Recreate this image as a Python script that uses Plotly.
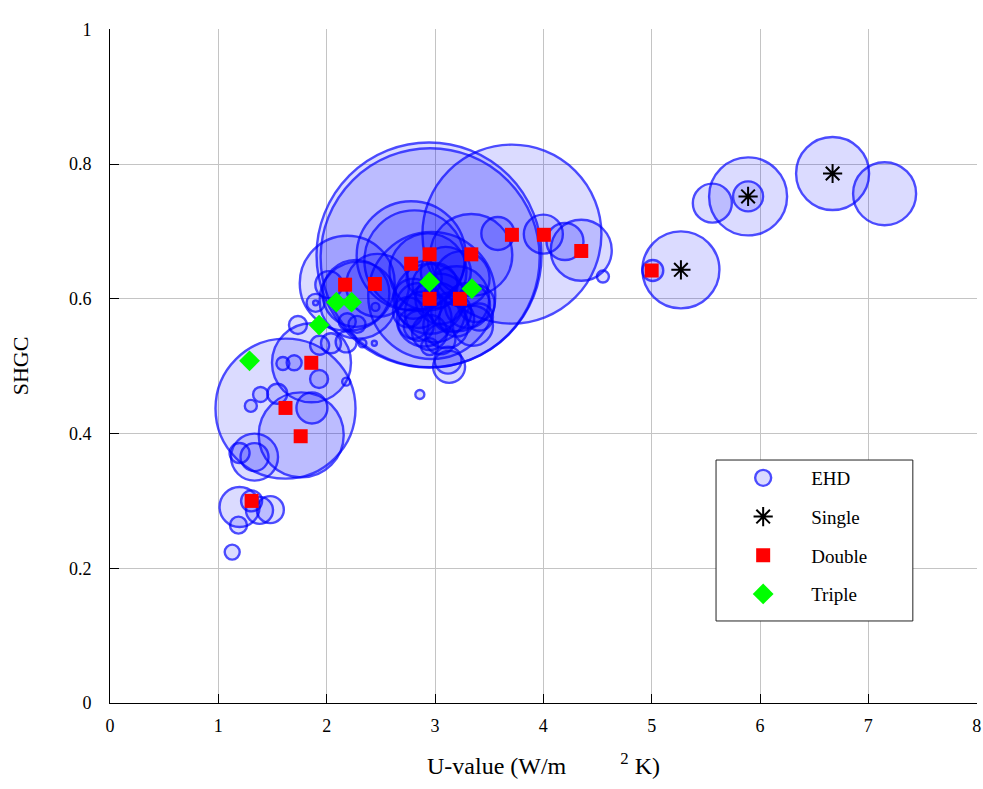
import plotly.graph_objects as go

# ---------------- data ----------------
# EHD bubbles: U-value, SHGC, bubble size
ehd_u = [6.67, 7.15, 5.89, 5.89, 5.56, 5.27, 5.01, 4.55, 4.35, 4.20, 4.00, 3.58,
         2.945, 2.955, 3.71, 2.78, 2.81, 3.335, 2.97, 2.935, 2.19, 2.47, 2.27, 2.29,
         2.85, 2.90, 3.00, 3.05, 3.10, 3.15, 2.95, 2.85, 3.20, 3.30, 3.35, 3.00, 3.10,
         2.80, 2.75, 3.25, 2.90, 3.05, 2.95, 3.20,
         2.80, 2.95, 3.13, 3.12, 2.86, 3.38, 3.41,
         1.62, 1.765, 1.86, 1.864, 1.93, 1.596, 1.70, 1.39, 1.544, 1.30, 2.18,
         1.334, 1.334, 1.196, 1.196, 1.307, 1.38, 1.48, 1.186, 1.128,
         1.735, 1.898, 1.898, 2.04, 2.18, 2.28, 2.33, 2.44, 2.45, 2.02, 1.935, 2.19]
ehd_shgc = [0.786, 0.756, 0.752, 0.752, 0.742, 0.643, 0.642, 0.633, 0.672, 0.685, 0.696, 0.697,
            0.665, 0.661, 0.696, 0.664, 0.657, 0.665, 0.605, 0.640, 0.623, 0.620, 0.608, 0.598,
            0.590, 0.570, 0.580, 0.600, 0.560, 0.580, 0.550, 0.560, 0.570, 0.590, 0.560, 0.620, 0.640,
            0.600, 0.580, 0.630, 0.630, 0.540, 0.600, 0.600,
            0.563, 0.529, 0.499, 0.509, 0.458, 0.593, 0.573,
            0.437, 0.398, 0.505, 0.438, 0.481, 0.504, 0.505, 0.458, 0.459, 0.441, 0.477,
            0.365, 0.365, 0.371, 0.291, 0.300, 0.286, 0.287, 0.264, 0.224,
            0.561, 0.594, 0.594, 0.534, 0.536, 0.562, 0.534, 0.534, 0.588, 0.621, 0.531, 0.566]
ehd_size = [73, 63, 78, 30, 39, 77, 21, 12, 61, 37, 39, 33,
            225, 219, 179, 109, 100, 82, 127, 77, 95, 63, 67, 77,
            45, 55, 60, 50, 45, 40, 35, 30, 35, 45, 40, 45, 50,
            40, 30, 55, 35, 30, 70, 65,
            30, 17, 32, 27, 9, 37, 27,
            140, 85, 79, 31, 18, 13, 15, 15, 20, 12, 8,
            47, 28, 20, 40, 21, 27, 27, 17, 15,
            18, 18, 5, 20, 21, 17, 8, 5, 8, 27, 19, 17]

single_u = [5.27, 5.89, 6.67]
single_shgc = [0.643, 0.752, 0.786]

double_u = [5.00, 3.71, 4.005, 4.35, 2.78, 2.95, 3.335, 2.95, 3.23, 2.17, 2.445, 1.858, 1.62, 1.76, 1.307]
double_shgc = [0.642, 0.695, 0.695, 0.671, 0.652, 0.666, 0.666, 0.600, 0.600, 0.621, 0.622, 0.505, 0.438, 0.396, 0.300]

triple_u = [2.95, 3.34, 2.09, 2.23, 1.93, 1.288]
triple_shgc = [0.625, 0.615, 0.595, 0.595, 0.561, 0.508]

x_ticks = [0, 1, 2, 3, 4, 5, 6, 7, 8]
y_ticks = [0, 0.2, 0.4, 0.6, 0.8, 1]
y_tick_labels = ["0", "0.2", "0.4", "0.6", "0.8", "1"]

# ---------------- figure ----------------
FONT = "Liberation Serif, Times New Roman, serif"
fig = go.Figure()

fig.add_trace(go.Scatter(
    x=ehd_u, y=ehd_shgc, mode="markers", name="EHD", legendgroup="a",
    marker=dict(size=ehd_size, sizemode="diameter", sizeref=1,
                color="rgba(0,0,255,0.2)", line=dict(color="rgb(0,0,255)", width=2.4)),
))
fig.add_trace(go.Scatter(
    x=single_u, y=single_shgc, mode="markers", name="Single", legendgroup="b",
    marker=dict(symbol="asterisk-open", size=16, color="black",
                line=dict(color="black", width=2)),
))
fig.add_trace(go.Scatter(
    x=double_u, y=double_shgc, mode="markers", name="Double", legendgroup="c",
    marker=dict(symbol="square", size=14, color="#ff0000", line=dict(width=0)),
))
fig.add_trace(go.Scatter(
    x=triple_u, y=triple_shgc, mode="markers", name="Triple", legendgroup="d",
    marker=dict(symbol="diamond", size=16, color="#00ff00",
                line=dict(color="#00ff00", width=0)),
))

axis_common = dict(
    showgrid=True, gridcolor="#c4c4c4", gridwidth=1,
    zeroline=False, showline=True, linecolor="black", linewidth=1,
    ticks="inside", ticklen=9, tickcolor="black", tickwidth=1,
    tickfont=dict(family=FONT, size=18, color="black"),
    mirror=False, automargin=False,
)

fig.update_xaxes(range=[0, 8.003], tickvals=x_ticks, ticktext=[str(v) for v in x_ticks],
                 title=dict(text="U-value (W/m\u00a0\u00a0\u00a0\u00a0\u00a0\u00a0\u00a0\u00a0\u00a0<sup>2</sup>\u00a0K)",
                            font=dict(family=FONT, size=24, color="black"), standoff=22),
                 ticklabelstandoff=6, **axis_common)
fig.update_yaxes(range=[0, 1.0005], tickvals=y_ticks, ticktext=y_tick_labels,
                 title=dict(text="SHGC", font=dict(family=FONT, size=22, color="black"), standoff=34),
                 ticklabelstandoff=14, **axis_common)

# legend frame
fig.add_shape(type="rect", xref="paper", yref="paper", x0=0.699, x1=0.926, y0=0.1217, y1=0.3605,
              line=dict(color="#222", width=1), fillcolor="white", layer="above")

fig.update_layout(
    width=983, height=789,
    margin=dict(l=110, r=6, t=29, b=86),
    paper_bgcolor="white", plot_bgcolor="white",
    showlegend=True,
    legend=dict(x=0.698, y=0.362, xanchor="left", yanchor="top",
                bgcolor="rgba(0,0,0,0)", borderwidth=0,
                font=dict(family=FONT, size=19, color="black"),
                traceorder="grouped", tracegroupgap=11, itemwidth=86),
    font=dict(family=FONT),
)

fig.write_html(
    "out.html",
    config={"displayModeBar": False},
    post_script="document.body.style.margin='0px';document.body.style.overflow='hidden';",
)
